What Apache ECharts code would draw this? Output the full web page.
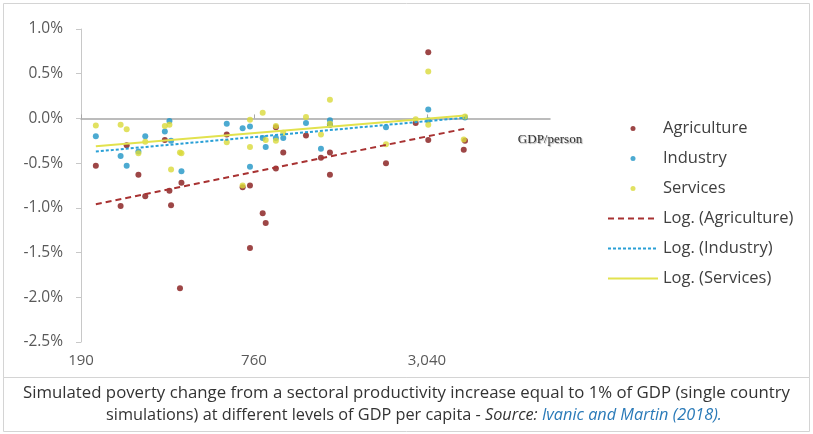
<!DOCTYPE html>
<html>
<head>
<meta charset="utf-8">
<script src="https://cdn.jsdelivr.net/npm/echarts@6/dist/echarts.min.js"></script>
<style>
  html, body { margin: 0; padding: 0; background: #fff; }
  #chart { width: 813px; height: 434px; }
</style>
</head>
<body>
<div id="chart"></div>
<script>
// GDP per person (USD) and simulated poverty change (%) per single-country run
const agriculture = [
  [214, -0.53], [261, -0.98], [274, -0.30], [301, -0.63], [318, -0.87],
  [372, -0.24], [386, -0.81], [391, -0.97], [420, -1.90], [425, -0.72],
  [611, -0.18], [694, -0.77], [736, -0.75], [736, -1.45], [815, -1.06],
  [835, -1.17], [906, -0.10], [906, -0.56], [961, -0.38], [1153, -0.19],
  [1300, -0.44], [1397, -0.38], [1397, -0.63], [1397, -0.07], [2189, -0.50],
  [2777, -0.05], [3072, 0.74], [3072, -0.24], [4083, -0.35], [4123, -0.25]
];
const industry = [
  [214, -0.20], [261, -0.42], [274, -0.53], [301, -0.37], [318, -0.20],
  [372, -0.145], [386, -0.03], [391, -0.25], [425, -0.59], [611, -0.06],
  [694, -0.11], [736, -0.09], [736, -0.54], [815, -0.22], [835, -0.32],
  [906, -0.22], [961, -0.22], [1153, -0.05], [1300, -0.34], [1397, -0.02],
  [1397, -0.07], [2189, -0.10], [3072, 0.10], [3072, -0.02], [4123, 0.01]
];
const services = [
  [214, -0.08], [261, -0.07], [274, -0.12], [301, -0.39], [318, -0.26],
  [372, -0.085], [386, -0.07], [391, -0.57], [420, -0.38], [425, -0.39],
  [611, -0.265], [694, -0.75], [736, -0.015], [736, -0.32], [815, 0.063],
  [835, -0.24], [906, -0.085], [906, -0.25], [961, -0.16], [1153, 0.015],
  [1300, -0.18], [1397, 0.21], [1397, -0.06], [2189, -0.29], [2777, -0.01],
  [3072, 0.525], [3072, -0.07], [4083, -0.235], [4123, 0.022]
];
// Logarithmic trend lines: end points over the GDP range of the runs
const trendAgriculture = [[214, -0.96], [4123, -0.115]];
const trendIndustry = [[214, -0.37], [4123, 0.008]];
const trendServices = [[214, -0.31], [4123, 0.034]];

const xTicks = [190, 760, 3040];
const xRange = [190, 8150];
const yRange = [-2.5, 1.0];

const FONT = "'Open Sans', 'Liberation Sans', sans-serif";
const COLORS = {
  agri: '#851818', ind: '#1f95c6', serv: '#dada3a',
  agriTrend: '#a83232', indTrend: '#2aa0d6', servTrend: '#e2e24e'
};

const chart = echarts.init(document.getElementById('chart'), null, { renderer: 'canvas' });

const scatter = (name, data, color) => ({
  name, type: 'scatter', data, symbol: 'circle', symbolSize: 6,
  itemStyle: { color }, xAxisIndex: 0, yAxisIndex: 0, z: 3
});
const trend = (name, data, color, dash, width) => ({
  name, type: 'line', data, symbol: 'none', silent: true,
  lineStyle: { color, width, type: dash }, itemStyle: { color },
  xAxisIndex: 0, yAxisIndex: 0, z: 4
});
// Trend entries in the legend show only their line sample
const lineOnly = name => ({ name, itemStyle: { color: 'rgba(0,0,0,0)', borderWidth: 0 } });

chart.setOption({
  animation: false,
  backgroundColor: '#fff',
  grid: { left: 81, right: 263, top: 29, bottom: 92, containLabel: false },
  xAxis: [
    {
      type: 'log', logBase: 4, min: xRange[0], max: xRange[1], position: 'bottom',
      axisLine: { show: false, onZero: false },
      axisTick: { show: false },
      splitLine: { show: false },
      axisLabel: {
        customValues: xTicks, margin: 11,
        fontFamily: FONT, fontSize: 15, color: '#595959',
        formatter: v => Math.round(v).toLocaleString('en-US')
      }
    },
    {
      type: 'log', logBase: 4, min: xRange[0], max: xRange[1], position: 'bottom',
      axisLine: { show: true, onZero: true, lineStyle: { color: '#a6a6a6', width: 1.5 } },
      axisTick: { show: true, customValues: xTicks, length: 4, inside: true, lineStyle: { color: '#a6a6a6' } },
      axisLabel: { show: false },
      splitLine: { show: false },
      name: 'GDP/person', nameLocation: 'end', nameGap: 0,
      nameTextStyle: {
        fontFamily: "'Liberation Serif', 'DejaVu Serif', serif", fontSize: 13,
        color: '#333', align: 'center', verticalAlign: 'top', padding: [15, 0, 0, 0],
        textShadowColor: 'rgba(0,0,0,0.35)', textShadowBlur: 1,
        textShadowOffsetX: 1, textShadowOffsetY: 1
      }
    }
  ],
  yAxis: {
    type: 'value', min: yRange[0], max: yRange[1], interval: 0.5,
    axisLine: { show: true, lineStyle: { color: '#c8c8c8', width: 1 } },
    axisTick: { show: true, length: 5, lineStyle: { color: '#c8c8c8' } },
    splitLine: { show: false },
    axisLabel: {
      margin: 18, fontFamily: FONT, fontSize: 15.5, color: '#595959',
      formatter: v => v.toFixed(1) + '%'
    }
  },
  legend: {
    orient: 'vertical', left: 602, top: 115, padding: 5,
    itemWidth: 50, itemHeight: 5, itemGap: 13,
    textStyle: { fontFamily: FONT, fontSize: 16.5, color: '#404040' },
    data: [
      { name: 'Agriculture', icon: 'circle' },
      { name: 'Industry', icon: 'circle' },
      { name: 'Services', icon: 'circle' },
      lineOnly('Log. (Agriculture)'), lineOnly('Log. (Industry)'), lineOnly('Log. (Services)')
    ]
  },
  series: [
    scatter('Agriculture', agriculture, COLORS.agri),
    scatter('Industry', industry, COLORS.ind),
    scatter('Services', services, COLORS.serv),
    trend('Log. (Agriculture)', trendAgriculture, COLORS.agriTrend, [6, 4], 2),
    trend('Log. (Industry)', trendIndustry, COLORS.indTrend, [3, 2], 2),
    trend('Log. (Services)', trendServices, COLORS.servTrend, 'solid', 2)
  ],
  graphic: [
    { type: 'rect', shape: { x: 3.5, y: 3.5, width: 806, height: 374 },
      style: { fill: 'none', stroke: '#d4d4d4', lineWidth: 1 }, silent: true },
    { type: 'rect', shape: { x: 3.5, y: 377.5, width: 806, height: 54 },
      style: { fill: 'none', stroke: '#d4d4d4', lineWidth: 1 }, silent: true },
    { type: 'text', silent: true,
      style: {
        x: 406.5, y: 393, align: 'center', verticalAlign: 'middle',
        text: 'Simulated poverty change from a sectoral productivity increase equal to 1% of GDP (single country',
        fontFamily: FONT, fontSize: 16.8, fill: '#333'
      } },
    { type: 'text', silent: true,
      style: {
        x: 414, y: 415, align: 'center', verticalAlign: 'middle',
        text: '{n|simulations) at different levels of GDP per capita - }{i|Source: }{l|Ivanic and Martin (2018).}',
        rich: {
          n: { fontFamily: FONT, fontSize: 16.3, fill: '#333', align: 'center' },
          i: { fontFamily: FONT, fontSize: 16.3, fill: '#333', fontStyle: 'italic', align: 'center' },
          l: { fontFamily: FONT, fontSize: 16.3, fill: '#2a7ab8', fontStyle: 'italic', align: 'center' }
        }
      } }
  ]
});
</script>
</body>
</html>
